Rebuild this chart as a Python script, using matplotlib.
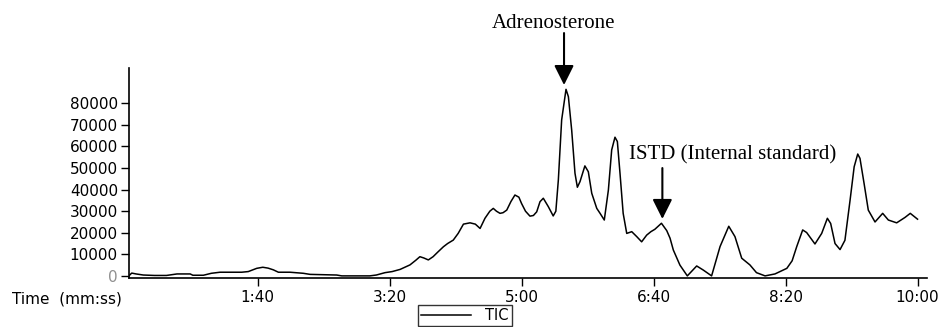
import matplotlib
matplotlib.use('Agg')
import matplotlib.pyplot as plt
import matplotlib.ticker as ticker

# TIC trace (time in seconds, intensity in counts)
times = [3, 4.7, 8, 13.5, 22, 31, 39, 49, 51, 59, 65, 71.6, 88, 93, 99.4, 104, 108, 112,
         115.8, 124.6, 134.7, 139.8, 160, 163.8, 185, 190, 196.6, 202, 208, 215.5, 220,
         223, 226, 229.4, 233, 236.5, 240.8, 244, 248.3, 252, 256, 261, 265, 268.6, 272.3,
         276, 278.6, 281, 283.7, 286, 288.8, 292, 295, 298, 300, 303, 306.4, 309, 311.5,
         314, 316.5, 320.3, 324, 326, 327.9, 330.4, 333.7, 335.5, 338, 340.5, 342.3, 344.3,
         348, 350.6, 353.2, 357, 359.5, 362.7, 365.8, 368.3, 370.8, 372.6, 374.6, 377,
         379.7, 383.5, 387.3, 391, 394.8, 398, 401, 406, 410, 412.5, 415, 420, 425.6,
         432.7, 437.7, 444, 450.4, 457, 461.7, 466.8, 473, 478, 484.5, 492, 501, 505,
         508.5, 513, 516, 522.3, 527.4, 531.7, 534.2, 537.5, 541.3, 545, 548.9, 552,
         554.7, 556.4, 559.5, 562.7, 567.8, 573.6, 577.9, 584.2, 590.5, 594.5, 600]
intensity = [300, 1300, 900, 400, 200, 200, 900, 900, 300, 300, 1200, 1700, 1700, 2000,
             3500, 4000, 3600, 2800, 1700, 1700, 1200, 700, 400, 0, 0, 400, 1500, 2000,
             3000, 5100, 7300, 8900, 8300, 7400, 8900, 11000, 13500, 15000, 16600, 19700,
             24000, 24600, 24000, 22000, 26700, 30000, 31300, 30000, 29000, 29300, 30500,
             34500, 37500, 36500, 33600, 30000, 27700, 28000, 29700, 34400, 36000, 32100,
             27800, 30000, 44500, 72300, 86500, 83100, 67600, 47600, 41100, 43700, 51000,
             48300, 38300, 31300, 29000, 25900, 39800, 58400, 64300, 62300, 47600, 29000,
             19700, 20500, 18200, 15800, 18900, 20500, 21600, 24400, 21000, 17500, 12000,
             5000, 0, 4600, 2700, 0, 13600, 23000, 18200, 8200, 5100, 1500, 0, 900, 3500,
             7000, 13600, 21300, 20100, 14800, 19700, 26700, 24300, 15000, 12200, 16500,
             35100, 50600, 56500, 54500, 42900, 30500, 25000, 29000, 25900, 24600, 27100,
             29000, 26300]

x_ticks = [100, 200, 300, 400, 500, 600]
x_labels = ['1:40', '3:20', '5:00', '6:40', '8:20', '10:00']
y_ticks = [0, 10000, 20000, 30000, 40000, 50000, 60000, 70000, 80000]

adreno_peak = (332.2, 88500)
istd_peak = (406.7, 26400)

fig = plt.figure(figsize=(9.48, 3.27), dpi=100)
ax = fig.add_axes([0.1361, 0.1508, 0.8415, 0.6413])

ax.plot(times, intensity, color='black', lw=1.1, label='TIC')

ax.set_xlim(2.65, 607)
ax.set_ylim(-835, 96400)
ax.spines['top'].set_visible(False)
ax.spines['right'].set_visible(False)
for s in ('left', 'bottom'):
    ax.spines[s].set_linewidth(1.2)

ax.xaxis.set_major_locator(ticker.FixedLocator(x_ticks))
ax.set_xticklabels(x_labels)
ax.yaxis.set_major_locator(ticker.FixedLocator(y_ticks))
ax.set_yticklabels([str(v) for v in y_ticks])
ax.tick_params(axis='both', direction='out', length=6, width=1, labelsize=11,
               colors='black')
ax.tick_params(axis='y', pad=2)
ax.tick_params(axis='x', pad=3)
ax.get_yticklabels()[0].set_color('#909090')

fig.text(12 / 948, 0.087, 'Time  (mm:ss)', fontsize=11, va='center', ha='left')

serif = 'Liberation Serif'
ax.text(323.9, 117200, 'Adrenosterone', fontsize=15, family=serif,
        ha='center', va='center', clip_on=False)
ax.annotate('', xy=adreno_peak, xytext=(adreno_peak[0], 112600),
            arrowprops=dict(arrowstyle='-|>,head_length=1.2,head_width=0.6',
                            color='black', lw=1.5, shrinkA=0, shrinkB=0),
            annotation_clip=False)

ax.text(460, 56050, 'ISTD (Internal standard)', fontsize=15, family=serif,
        ha='center', va='center')
ax.annotate('', xy=istd_peak, xytext=(istd_peak[0], 50000),
            arrowprops=dict(arrowstyle='-|>,head_length=1.2,head_width=0.6',
                            color='black', lw=1.5, shrinkA=0, shrinkB=0))

leg = fig.legend(loc='center', bbox_to_anchor=(0.4905, 0.036), fontsize=10.5,
                 frameon=True, fancybox=False, borderpad=0.2, handlelength=3.4,
                 handletextpad=1.0, borderaxespad=0)
leg.get_frame().set_edgecolor('black')
leg.get_frame().set_linewidth(1.0)

plt.savefig('out.png', dpi=100)
